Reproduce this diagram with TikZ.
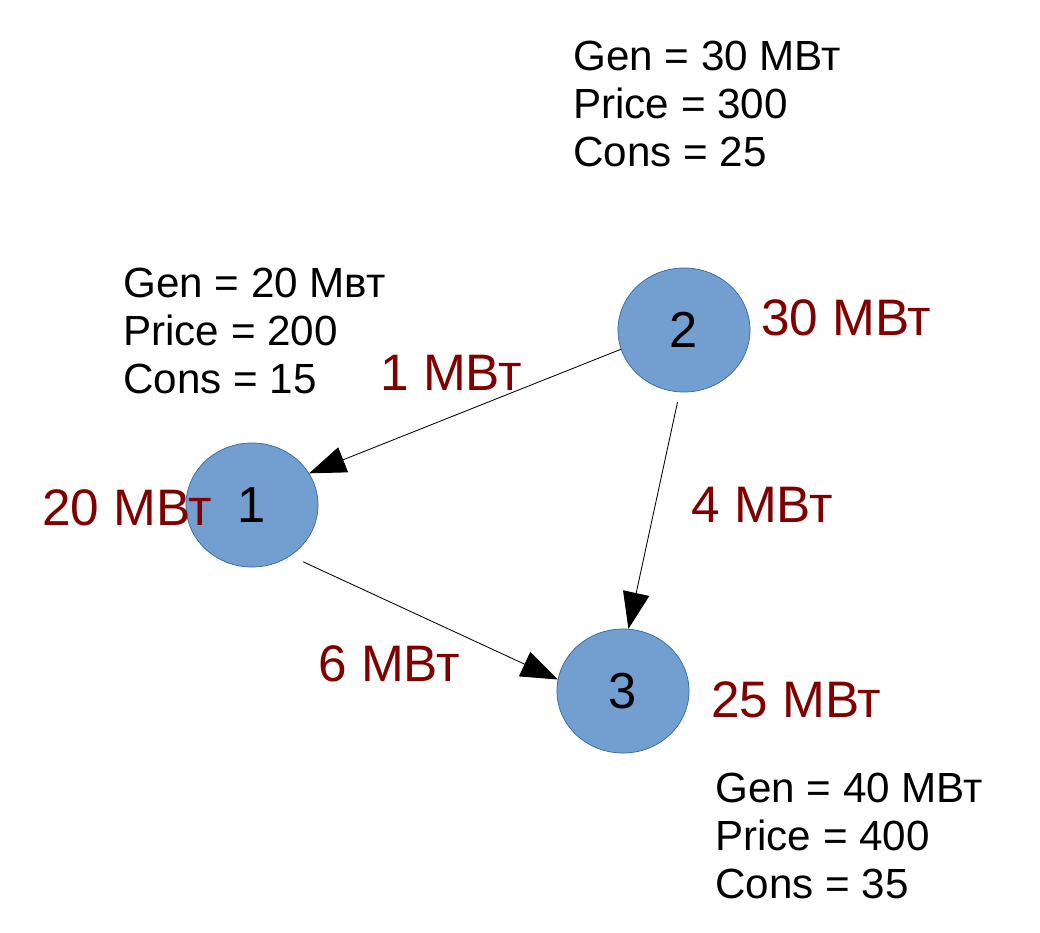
\documentclass[tikz,border=0pt]{standalone}
\usepackage{fontspec}
\setmainfont{Liberation Sans}
\usepackage{tikz}
\usetikzlibrary{arrows.meta,%
                shapes,positioning}

\definecolor{busfill}{RGB}{114,159,207}
\definecolor{busline}{RGB}{52,101,164}
\definecolor{flowred}{RGB}{128,0,0}

\tikzset{
  bus/.style={ellipse, draw=busline, fill=busfill, line width=0.5pt,
    minimum width=3.3cm, minimum height=3.1cm, inner sep=0pt,
    font=\fontsize{36}{40}\selectfont},
  info/.style={anchor=base west, align=left, inner sep=0pt,
    font=\fontsize{30}{34}\selectfont},
  mw/.style={anchor=base west, inner sep=0pt, text=flowred,
    font=\fontsize{36.5}{40}\selectfont},
  flow/.style={-{Triangle[length=26pt,width=19pt]}, line width=0.6pt}
}

\begin{document}
\begin{tikzpicture}[x=0.025cm,y=-0.025cm]
\useasboundingbox (0,0) rectangle (1040,933);

\node[bus] (b1) at (252,505) {1};
\node[bus] (b2) at (684,330) {2};
\node[bus] (b3) at (623,691) {3};

% anchor is the baseline of the last line
\node[info] (info1) at (123,393) {Gen = 20 Мвт\\Price = 200\\Cons = 15};
\node[info] (info2) at (573,166) {Gen = 30 МВт\\Price = 300\\Cons = 25};
\node[info] (info3) at (715,898) {Gen = 40 МВт\\Price = 400\\Cons = 35};

\node[mw] (mw1) at (42,525) {20 МВт};
\node[mw] (mw2) at (761,335) {30 МВт};
\node[mw] (mw3) at (711,717) {25 МВт};

\node[mw] (f21) at (380,390) {1 МВт};
\node[mw] (f23) at (691,522) {4 МВт};
\node[mw] (f13) at (318,681) {6 МВт};

\draw[flow] (b2.197) -- (b1.29);
\draw[flow, shorten <=7pt] (b2.266) -- (b3.85);
\draw[flow, shorten <=10pt] (b1.307) -- (b3.170);
\end{tikzpicture}
\end{document}
